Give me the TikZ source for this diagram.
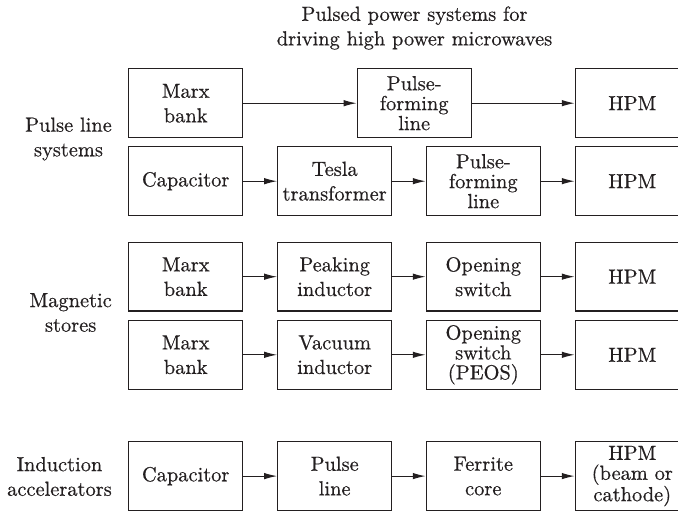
\documentclass[tikz,border=0pt]{standalone}
\usepackage{fontspec}
\usetikzlibrary{arrows.meta}
\newfontfamily\diagfam{lmroman10-regular.otf}[FakeBold=0.5]
\definecolor{ink}{RGB}{35,31,32}
\newcommand\diagfont{\diagfam\fontsize{20.5}{24.7}\selectfont}
\newcommand\diagfonttight{\diagfam\fontsize{20.5}{20}\selectfont}
\begin{document}
\begin{tikzpicture}[x=1bp,y=-1bp,
  blk/.style={draw=ink, line width=1.1bp, minimum width=114bp, minimum height=68.5bp,
              inner sep=0pt, align=center, text=ink, font=\diagfont},
  blkthree/.style={blk, font=\diagfonttight},
  lbl/.style={align=center, anchor=east, inner sep=0pt, text=ink, font=\diagfont},
  link/.style={draw=ink, line width=1.1bp, -{Latex[length=13bp,width=6.5bp]}}]
\useasboundingbox (0,0) rectangle (678,512);
\clip (0,0) rectangle (678,512);

% title
\node[align=center, inner sep=0pt, text=ink, font=\diagfont] (title) at (414.5,28)
  {Pulsed power systems for\\driving high power microwaves};

% group labels
\node[lbl] (gpl) at (112,139) {Pulse line\\systems};
\node[lbl] (gms) at (112,312.5) {Magnetic\\stores};
\node[lbl] (gia) at (112,476.5) {Induction\\accelerators};

% row 1
\node[blk] (a1) at (185.7,103.2) {Marx\\bank};
\node[blkthree] (a2) at (414.2,103.2) {Pulse-\\forming\\line};
\node[blk] (a3) at (632.3,103.2) {HPM};
\draw[link] (a1.east) -- (a2.west);
\draw[link] (a2.east) -- (a3.west);

% row 2
\node[blk] (b1) at (185.7,181.2) {Capacitor};
\node[blk] (b2) at (334.7,181.2) {Tesla\\transformer};
\node[blkthree] (b3) at (483.3,181.2) {Pulse-\\forming\\line};
\node[blk] (b4) at (632.3,181.2) {HPM};
\draw[link] (b1.east) -- (b2.west);
\draw[link] (b2.east) -- (b3.west);
\draw[link] (b3.east) -- (b4.west);

% row 3
\node[blk] (c1) at (185.7,276.7) {Marx\\bank};
\node[blk] (c2) at (334.7,276.7) {Peaking\\inductor};
\node[blk] (c3) at (483.3,276.7) {Opening\\switch};
\node[blk] (c4) at (632.3,276.7) {HPM};
\draw[link] (c1.east) -- (c2.west);
\draw[link] (c2.east) -- (c3.west);
\draw[link] (c3.east) -- (c4.west);

% row 4
\node[blk] (d1) at (185.7,354.8) {Marx\\bank};
\node[blk] (d2) at (334.7,354.8) {Vacuum\\inductor};
\node[blkthree] (d3) at (483.3,354.8) {Opening\\switch\\(PEOS)};
\node[blk] (d4) at (632.3,354.8) {HPM};
\draw[link] (d1.east) -- (d2.west);
\draw[link] (d2.east) -- (d3.west);
\draw[link] (d3.east) -- (d4.west);

% row 5
\node[blk] (e1) at (185.7,476.1) {Capacitor};
\node[blk] (e2) at (334.7,476.1) {Pulse\\line};
\node[blk] (e3) at (483.3,476.1) {Ferrite\\core};
\node[blkthree] (e4) at (632.3,476.1) {HPM\\(beam or\\cathode)};
\draw[link] (e1.east) -- (e2.west);
\draw[link] (e2.east) -- (e3.west);
\draw[link] (e3.east) -- (e4.west);
\end{tikzpicture}
\end{document}
